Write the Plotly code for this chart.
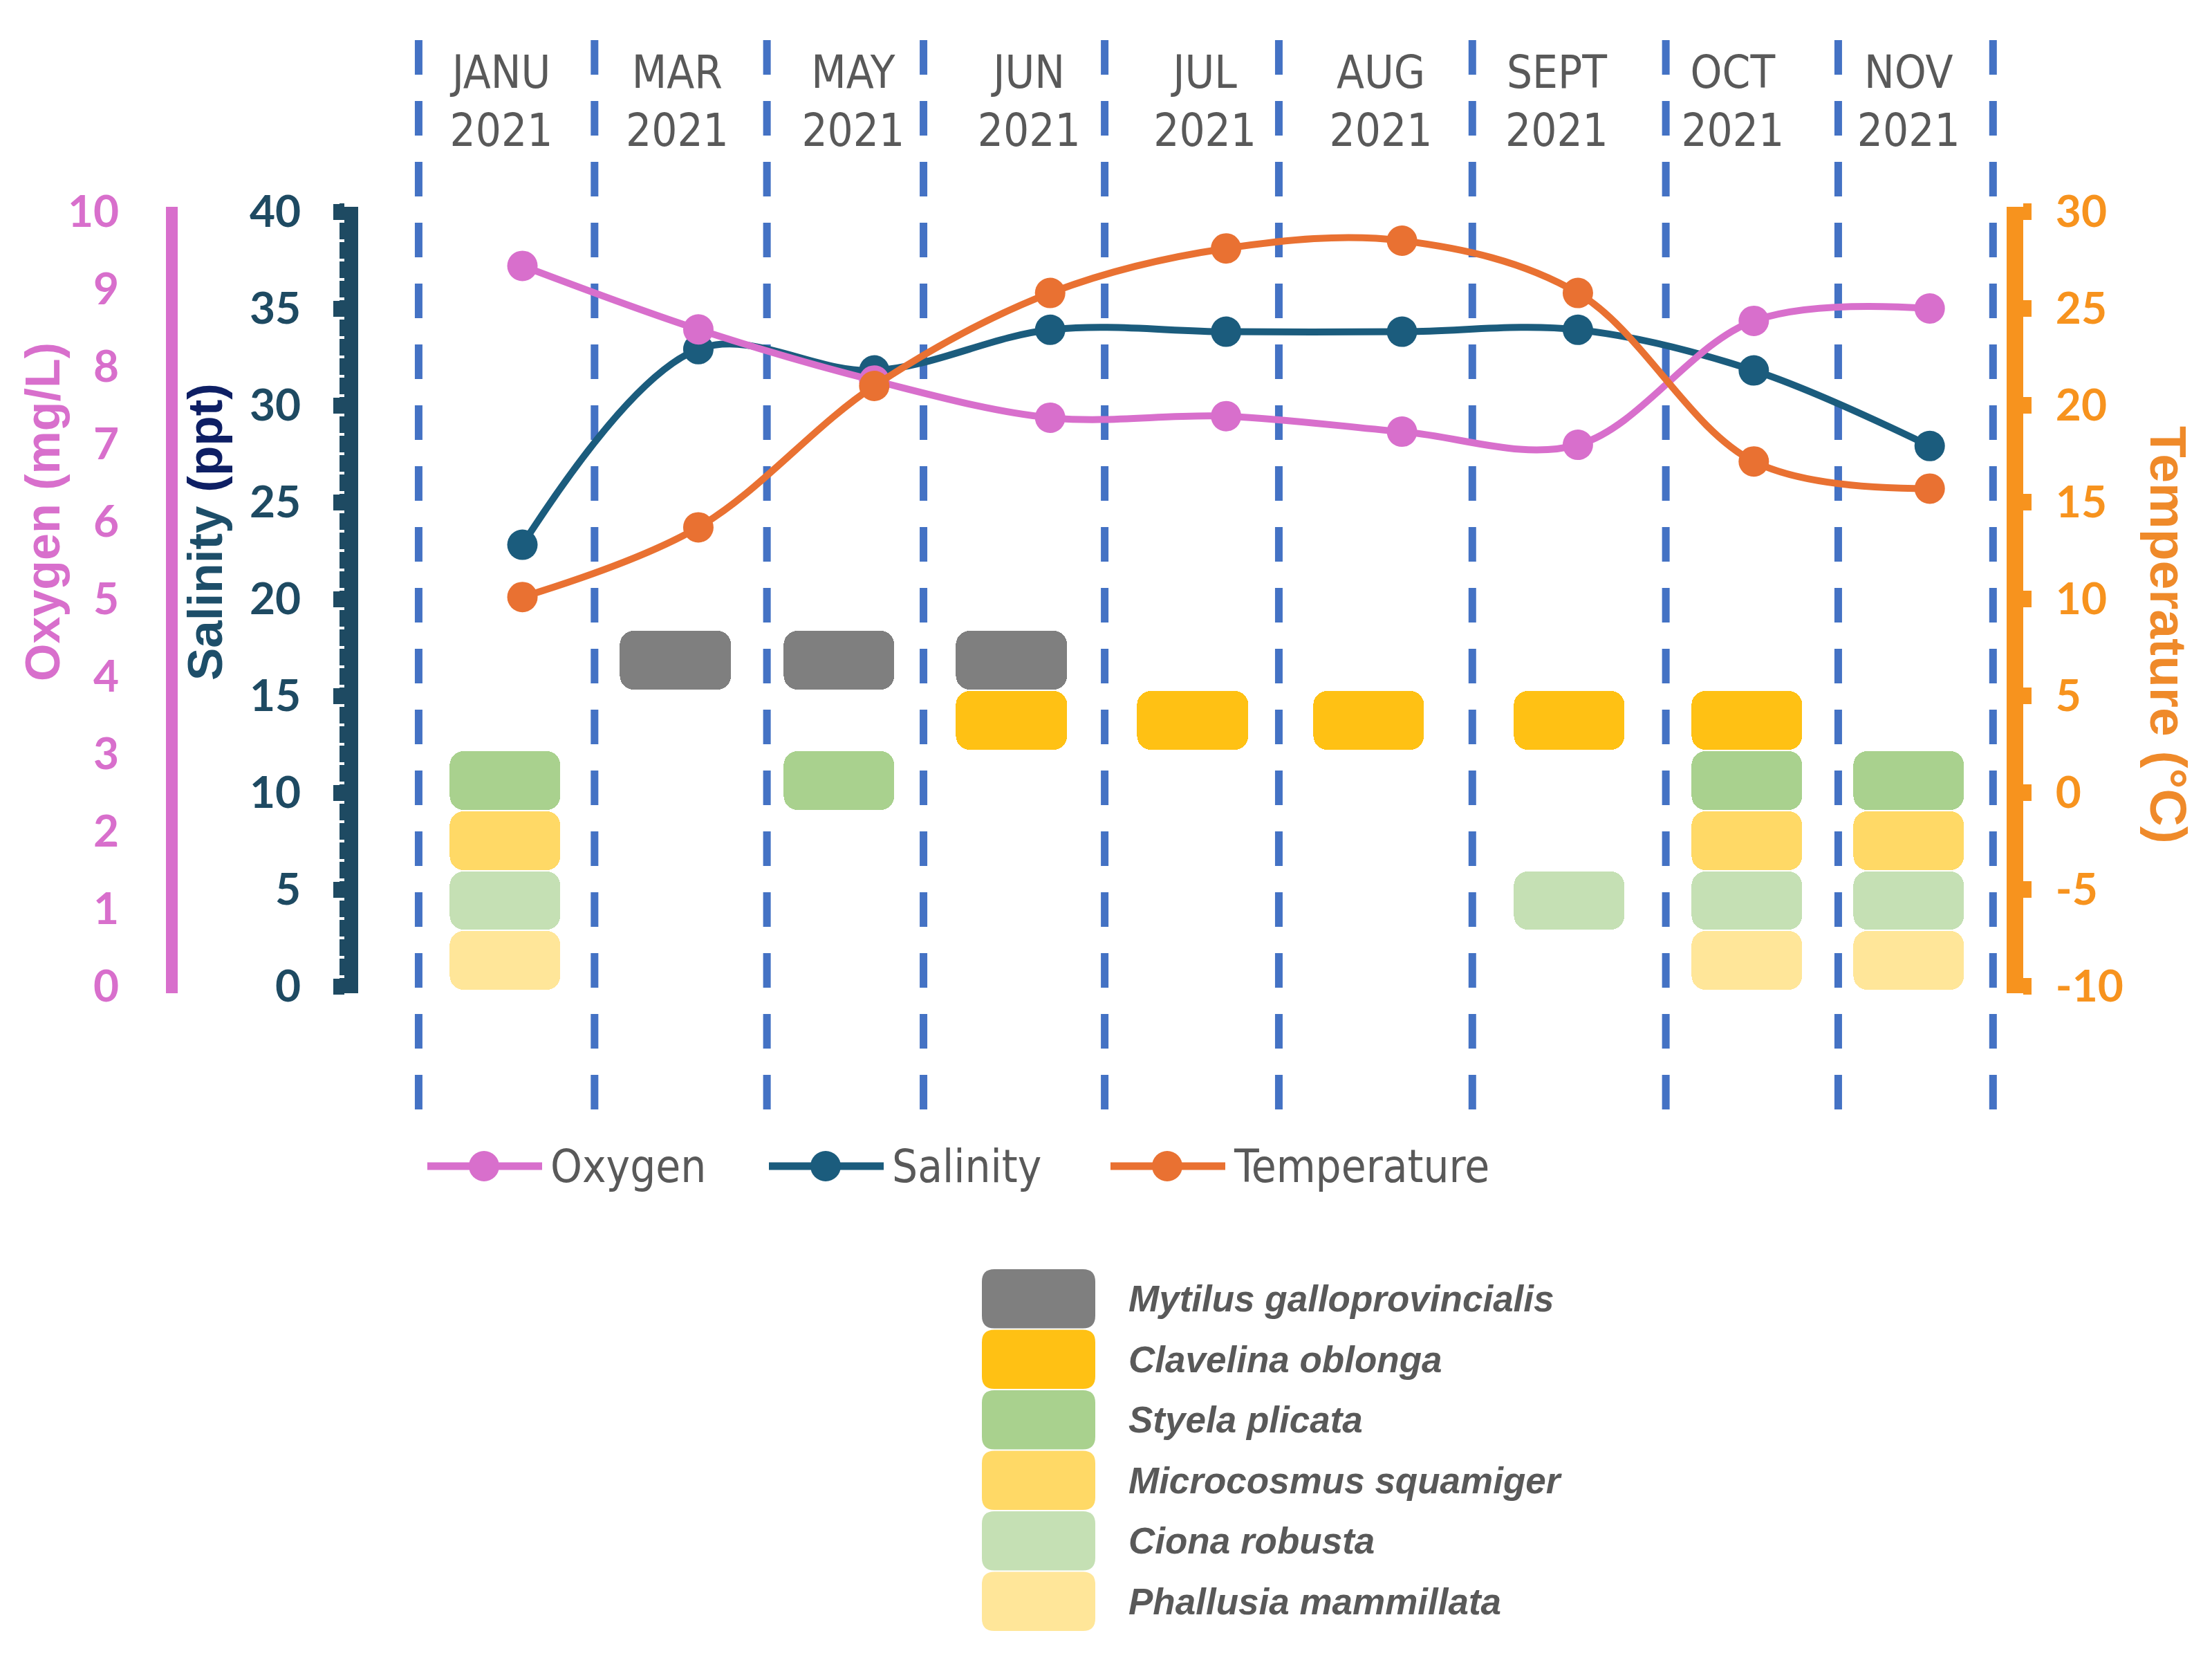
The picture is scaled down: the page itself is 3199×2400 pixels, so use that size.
import plotly.graph_objects as go

# ---------------- data ----------------
months = ["JANU", "MAR", "MAY", "JUN", "JUL", "AUG", "SEPT", "OCT", "NOV"]
year_label = "2021"
oxygen = [9.30, 8.48, 7.82, 7.34, 7.36, 7.16, 6.99, 8.59, 8.75]          # mg/L
salinity = [22.8, 32.9, 31.8, 33.9, 33.8, 33.8, 33.9, 31.8, 27.9]        # ppt
temperature = [10.1, 13.7, 21.0, 25.8, 28.1, 28.5, 25.8, 17.1, 15.7]     # degC

species = ["Mytilus galloprovincialis", "Clavelina oblonga", "Styela plicata",
           "Microcosmus squamiger", "Ciona robusta", "Phallusia mammillata"]
mytilus_months = ["MAR", "MAY", "JUN"]
clavelina_months = ["JUN", "JUL", "AUG", "SEPT", "OCT"]
styela_months = ["JANU", "MAY", "OCT", "NOV"]
microcosmus_months = ["JANU", "OCT", "NOV"]
ciona_months = ["JANU", "SEPT", "OCT", "NOV"]
phallusia_months = ["JANU", "OCT", "NOV"]
species_months = [mytilus_months, clavelina_months, styela_months,
                  microcosmus_months, ciona_months, phallusia_months]

oxygen_ticks = list(range(0, 11))
salinity_ticks = list(range(0, 41, 5))
temperature_ticks = list(range(-10, 31, 5))

# ---------------- style ----------------
W, H = 3199, 2400
C_OXY = "#D86FCC"
C_SAL = "#1B5C7D"
C_TEMP = "#E97132"
C_SAL_AX = "#1E4A62"
C_TEMP_AX = "#F7931E"
C_SEP = "#4472C4"
C_TEXT = "#595959"
species_colors = ["#7F7F7F", "#FFC114", "#A9D18E", "#FFD966", "#C5E0B4", "#FFE699"]

NARROW = "Liberation Sans Narrow, DejaVu Sans Condensed, sans-serif"
BOLDF = "Lato, Liberation Sans, sans-serif"
TITLEF = "Liberation Sans, Arial, sans-serif"

LINE_SHIFT = 0.12
BOX_WIDTH = 0.63
ROW_PITCH = 3.1
ROW_BASE = 1.33
BOX_H = 3.03
# visual nudges of each month's box column and of the separators (layout only)
box_nudge = [0.02, -0.01, -0.08, -0.10, -0.07, -0.07, 0.07, 0.08, 0.0]
separators = [-0.47, 0.53, 1.51, 2.40, 3.43, 4.42, 5.52, 6.62, 7.60, 8.48]


def px_x(v):
    return v / W


def px_y(v):
    return 1 - v / H


fig = go.Figure()

# species presence boxes
n_sp = len(species)
for k, (name, mlist, col) in enumerate(zip(species, species_months, species_colors)):
    center = ROW_BASE + (n_sp - 1 - k) * ROW_PITCH
    xs = [months.index(m) + box_nudge[months.index(m)] for m in mlist]
    fig.add_trace(go.Bar(
        x=xs, y=[BOX_H] * len(xs), base=[center - BOX_H / 2] * len(xs), width=BOX_WIDTH,
        marker=dict(color=col, line=dict(width=0), cornerradius=20),
        name=name, showlegend=False, yaxis="y"))

x_idx = list(range(len(months)))
series = [("Oxygen", oxygen, C_OXY, "y2"),
          ("Salinity", salinity, C_SAL, "y"),
          ("Temperature", temperature, C_TEMP, "y3")]
for name, vals, col, ax in series:
    fig.add_trace(go.Scatter(
        x=[i + LINE_SHIFT for i in x_idx], y=vals, yaxis=ax, name=name,
        mode="lines+markers",
        line=dict(color=col, width=10, shape="spline", smoothing=1.0),
        marker=dict(color=col, size=44), showlegend=False, cliponaxis=False))

# plot geometry (pixels of the full figure)
X0_PX, X_UNIT_PX = 717.0, 254.4
x_lo, x_hi = -0.6, 8.6
dom_x0 = (X0_PX + x_lo * X_UNIT_PX) / W
dom_x1 = (X0_PX + x_hi * X_UNIT_PX) / W
SAL40_PX, SAL0_PX = 298.0, 1418.0
unit = (SAL0_PX - SAL40_PX) / 40.0
s_lo, s_hi = -0.35, 40.25
dom_y0 = 1 - (SAL0_PX - s_lo * unit) / H
dom_y1 = 1 - (SAL40_PX - (s_hi - 40) * unit) / H

shapes = []
for sx in separators:
    shapes.append(dict(type="line", xref="x", yref="paper", x0=sx, x1=sx,
                       y0=px_y(50), y1=px_y(1606),
                       line=dict(color=C_SEP, width=11, dash="50px,38px"), layer="below"))

annotations = []
annotations.append(dict(text="<b>Oxygen (mg/L)</b>", x=px_x(54), y=px_y(732), xref="paper", yref="paper",
                        xanchor="center", yanchor="middle",
                        textangle=-90, showarrow=False, font=dict(family=TITLEF, size=70, color=C_OXY)))
annotations.append(dict(text="<b><span style='color:#1D4E69'>Salinity</span> <span style='color:#0E1F64'>(ppt)</span></b>",
                        x=px_x(288), y=px_y(761), xref="paper", yref="paper",
                        xanchor="center", yanchor="middle",
                        textangle=-90, showarrow=False, font=dict(family=TITLEF, size=71, color=C_SAL_AX)))
annotations.append(dict(text="<b>Temperature (°C)</b>", x=px_x(3128), y=px_y(910), xref="paper", yref="paper",
                        xanchor="center", yanchor="middle",
                        textangle=90, showarrow=False, font=dict(family=TITLEF, size=75, color="#EF8A2A")))

# series legend (custom)
leg_y = 1678
leg_items = [("Oxygen", C_OXY, 610), ("Salinity", C_SAL, 1104), ("Temperature", C_TEMP, 1598)]
for name, col, x0 in leg_items:
    shapes.append(dict(type="line", xref="paper", yref="paper", x0=px_x(x0), x1=px_x(x0 + 166),
                       y0=px_y(leg_y), y1=px_y(leg_y), line=dict(color=col, width=11)))
    cx = x0 + 82
    shapes.append(dict(type="circle", xref="paper", yref="paper", x0=px_x(cx - 22), x1=px_x(cx + 22),
                       y0=px_y(leg_y - 22), y1=px_y(leg_y + 22), fillcolor=col, line=dict(width=0)))
    annotations.append(dict(text=name, x=px_x(x0 + 176), y=px_y(leg_y), xref="paper", yref="paper",
                            xanchor="left", yanchor="middle", showarrow=False,
                            font=dict(family=NARROW, size=65, color=C_TEXT)))


def rrect(x0, y0, x1, y1, r):
    rx, ry = r / W, r / H
    X0, X1 = px_x(x0), px_x(x1)
    Y0, Y1 = px_y(y1), px_y(y0)
    return (f"M {X0+rx},{Y0} L {X1-rx},{Y0} Q {X1},{Y0} {X1},{Y0+ry} "
            f"L {X1},{Y1-ry} Q {X1},{Y1} {X1-rx},{Y1} L {X0+rx},{Y1} "
            f"Q {X0},{Y1} {X0},{Y1-ry} L {X0},{Y0+ry} Q {X0},{Y0} {X0+rx},{Y0} Z")


sw_x0, sw_x1, sw_top, sw_pitch = 1412, 1576, 1826, 87.5
for k, (name, col) in enumerate(zip(species, species_colors)):
    t = sw_top + k * sw_pitch
    shapes.append(dict(type="path", xref="paper", yref="paper", path=rrect(sw_x0, t + 1, sw_x1, t + sw_pitch - 1, 18),
                       fillcolor=col, line=dict(width=0)))
    annotations.append(dict(text=f"<b><i>{name}</i></b>", x=px_x(1622), y=px_y(t + sw_pitch / 2),
                            xref="paper", yref="paper", xanchor="left", yanchor="middle", showarrow=False,
                            font=dict(family=TITLEF, size=53, color=C_TEXT)))


def bold(vals):
    return [f"<b>{v}</b>" for v in vals]


fig.update_layout(
    width=W, height=H, margin=dict(l=0, r=0, t=0, b=0, pad=0, autoexpand=False),
    paper_bgcolor="white", plot_bgcolor="white", barmode="overlay", bargap=0,
    showlegend=False, shapes=shapes, annotations=annotations,
    xaxis=dict(domain=[dom_x0, dom_x1], range=[x_lo, x_hi], side="top", anchor="y", automargin=False,
               tickvals=x_idx, ticktext=[f"{m}<br>{year_label}" for m in months],
               tickfont=dict(family=NARROW, size=65, color=C_TEXT),
               ticks="", ticklabelstandoff=74, showgrid=False, zeroline=False, showline=False),
    yaxis=dict(domain=[dom_y0, dom_y1], range=[s_lo, s_hi], anchor="free", position=500 / W, side="left",
               automargin=False,
               showline=True, linecolor=C_SAL_AX, linewidth=20, ticks="outside", ticklen=16, tickwidth=23,
               tickcolor=C_SAL_AX, tickvals=salinity_ticks, ticktext=bold(salinity_ticks),
               minor=dict(ticks="outside", dtick=1, ticklen=7, tickwidth=24, tickcolor=C_SAL_AX),
               tickfont=dict(color=C_SAL_AX, family=BOLDF, size=64), ticklabelstandoff=34,
               showgrid=False, zeroline=False),
    yaxis2=dict(overlaying="y", range=[-0.0875, 10.0625], anchor="free", position=240 / W, side="left",
                automargin=False,
                showline=True, linecolor=C_OXY, linewidth=17, ticks="", tickvals=oxygen_ticks,
                ticktext=bold(oxygen_ticks),
                tickfont=dict(color=C_OXY, family=BOLDF, size=64), ticklabelstandoff=55,
                showgrid=False, zeroline=False),
    yaxis3=dict(overlaying="y", range=[-10.35, 30.25], anchor="free", position=2906 / W, side="right",
                automargin=False,
                showline=True, linecolor=C_TEMP_AX, linewidth=24, ticks="outside", ticklen=12, tickwidth=24,
                tickcolor=C_TEMP_AX, tickvals=temperature_ticks, ticktext=bold(temperature_ticks),
                tickfont=dict(color=C_TEMP_AX, family=BOLDF, size=64), ticklabelstandoff=22,
                showgrid=False, zeroline=False),
)

fig.write_html("out.html")
